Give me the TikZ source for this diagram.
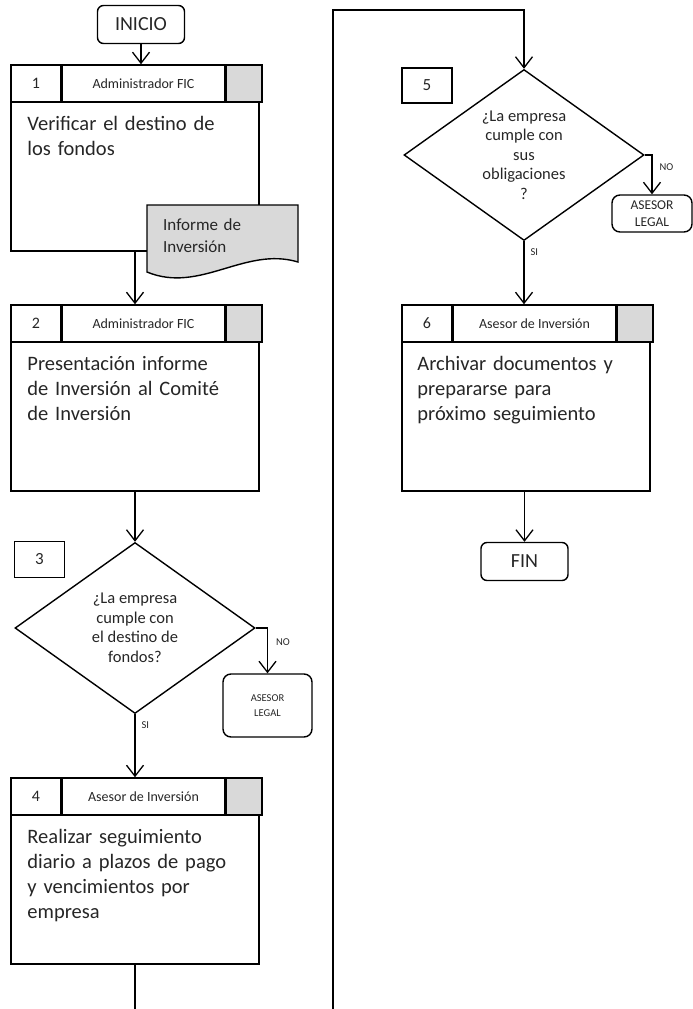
\documentclass[tikz,border=0pt]{standalone}
\usepackage{fontspec}
\setmainfont{Carlito}
\usetikzlibrary{arrows.meta, shapes.geometric, positioning}

\definecolor{boxgray}{HTML}{D9D9D9}
\definecolor{inkgray}{HTML}{262626}

\tikzset{
  frame/.style={draw, line width=1.5pt, inner sep=0pt, minimum width=248pt, minimum height=186pt},
  cell/.style={draw, line width=1.5pt, inner sep=0pt, minimum height=37pt, anchor=north west},
  graycell/.style={cell, fill=boxgray, minimum width=36pt},
  numtxt/.style={font=\fontsize{16}{18}\selectfont, text=inkgray},
  roletxt/.style={font=\fontsize{14}{16}\selectfont, text=inkgray},
  bodytxt/.style={anchor=north west, align=left, inner sep=0pt, text width=232pt,
    font=\fontsize{20.5}{25}\selectfont, text=inkgray},
  term/.style={draw, rounded corners=6pt, line width=1.4pt, inner sep=0pt,
    minimum width=87pt, minimum height=38pt, font=\fontsize{20}{22}\selectfont, text=inkgray},
  legal/.style={draw, rounded corners=8pt, line width=1.4pt, inner sep=0pt, align=center, text=inkgray},
  decision/.style={diamond, draw, line width=1.4pt, inner sep=0pt, aspect=1.4,
    minimum width=240pt, minimum height=171pt, align=center,
    font=\fontsize{16.5}{19.5}\selectfont, text=inkgray},
  stepno/.style={draw, line width=1.4pt, inner sep=0pt, minimum width=50pt, minimum height=36pt,
    font=\fontsize{17}{18}\selectfont, text=inkgray},
  doc/.style={draw, line width=1.4pt, fill=boxgray},
  flow/.style={line width=1.3pt, -{Straight Barb[length=11pt,width=17pt]}},
  link/.style={line width=1.3pt},
  yesno/.style={font=\fontsize{10.5}{12}\selectfont, text=inkgray, inner sep=2pt}
}

\begin{document}
\begin{tikzpicture}[x=1pt, y=-1pt]
  \useasboundingbox (0,0) rectangle (693,1009);

  % left column
  \node[term] (ini) at (141,24.5) {INICIO};

  % step 1
  \node[frame] (b1) at (135,158) {};
  \node[cell, minimum width=50pt] (n1) at (b1.north west) {};
  \node[numtxt] at (n1) {1};
  \node[cell, minimum width=162pt, right=0pt of n1] (r1) {};
  \node[roletxt] at (r1) {Administrador FIC};
  \node[graycell, right=0pt of r1] (g1) {};
  \node[bodytxt] (t1) at ([shift={(17,52)}]b1.north west) {Verificar el destino de\\los fondos};
  % document
  \draw[doc] (147,205) -- (298,205) -- (298,262) .. controls (245,246) and (200,294) .. (147,272) -- cycle;
  \node[bodytxt, font=\fontsize{17}{22}\selectfont] (inf) at (163,218) {Informe de\\Inversión};

  % step 2
  \node[frame] (b2) at (135,398) {};
  \node[cell, minimum width=50pt] (n2) at (b2.north west) {};
  \node[numtxt] at (n2) {2};
  \node[cell, minimum width=162pt, right=0pt of n2] (r2) {};
  \node[roletxt] at (r2) {Administrador FIC};
  \node[graycell, right=0pt of r2] (g2) {};
  \node[bodytxt] (t2) at ([shift={(17,52)}]b2.north west) {Presentación informe\\de Inversión al Comité\\de Inversión};

  % step 3
  \node[stepno] (s3) at (39.5,559.5) {3};
  \node[decision] (d3) at (135,628) {¿La empresa\\cumple con\\el destino de\\fondos?};
  \node[legal, minimum width=89pt, minimum height=63pt, font=\fontsize{10.5}{15}\selectfont] (al3) at (267.5,705.5) {ASESOR\\LEGAL};

  % step 4
  \node[frame] (b4) at (135,871) {};
  \node[cell, minimum width=50pt] (n4) at (b4.north west) {};
  \node[numtxt] at (n4) {4};
  \node[cell, minimum width=162pt, right=0pt of n4] (r4) {};
  \node[roletxt] at (r4) {Asesor de Inversión};
  \node[graycell, right=0pt of r4] (g4) {};
  \node[bodytxt] (t4) at ([shift={(17,52)}]b4.north west) {Realizar seguimiento\\diario a plazos de pago\\y vencimientos por\\empresa};

  % right column
  \node[stepno, minimum height=35pt] (s5) at (427,85.5) {5};
  \node[decision] (d5) at (524,155) {¿La empresa\\cumple con\\sus\\obligaciones\\?};
  \node[legal, minimum width=80pt, minimum height=37pt, font=\fontsize{13.5}{17}\selectfont] (al5) at (652,213.5) {ASESOR\\LEGAL};

  % step 6
  \node[frame] (b6) at (526,398) {};
  \node[cell, minimum width=50pt] (n6) at (b6.north west) {};
  \node[numtxt] at (n6) {6};
  \node[cell, minimum width=162pt, right=0pt of n6] (r6) {};
  \node[roletxt] at (r6) {Asesor de Inversión};
  \node[graycell, right=0pt of r6] (g6) {};
  \node[bodytxt] (t6) at ([shift={(16,52)}]b6.north west) {Archivar documentos y\\prepararse para\\próximo seguimiento};

  \node[term] (fin) at (524.5,561.5) {FIN};

  % connectors
  \coordinate (end4) at (135,1009);
  \coordinate (up5) at (333,1009);
  \coordinate (top5) at (333,10);

  \draw[flow] (ini.south) -- (ini.south |- b1.north);
  \draw[flow] (b1.south) -- (b2.north);
  \draw[flow] (b2.south) -- (d3.north);
  \draw[flow] (d3.east) -| node[yesno, pos=0.66, right, xshift=6pt] {NO} (al3.north);
  \draw[flow] (d3.south) -- node[yesno, pos=0.18, right, xshift=4pt] {SI} (b4.north);
  \draw[link] (b4.south) -- (end4);
  \draw[flow] (up5) -- (top5) -| (d5.north);
  \draw[flow] (d5.east) -| node[yesno, pos=0.66, right, xshift=5pt] {NO} (al5.north);
  \draw[flow] (d5.south) -- node[yesno, pos=0.18, right, xshift=4pt] {SI} (d5.south |- b6.north);
  \draw[flow] (fin.north |- b6.south) -- (fin.north);
\end{tikzpicture}
\end{document}
